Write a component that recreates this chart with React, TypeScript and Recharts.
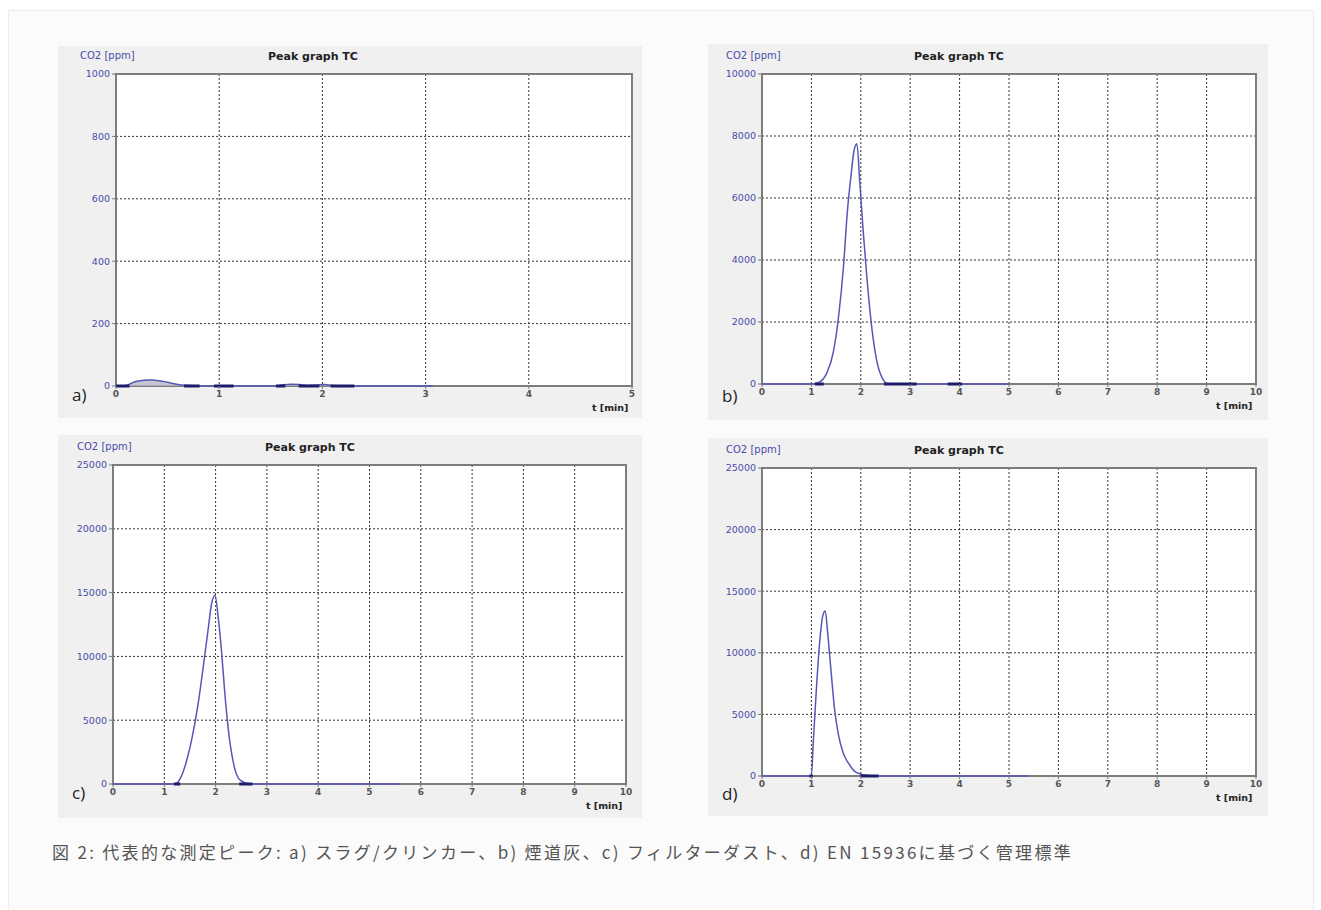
import React from "react"
import {
  ComposedChart, Area, Line, XAxis, YAxis, CartesianGrid, ReferenceArea,
} from "recharts"

// time axis ticks (min)
const xTicks5 = [0, 1, 2, 3, 4, 5]
const xTicks10 = [0, 1, 2, 3, 4, 5, 6, 7, 8, 9, 10]

// CO2 axis ticks (ppm)
const yTicksA = [0, 200, 400, 600, 800, 1000]
const yTicksB = [0, 2000, 4000, 6000, 8000, 10000]
const yTicksCD = [0, 5000, 10000, 15000, 20000, 25000]

// a) slag / clinker
const timeA = [0, 0.05, 0.1, 0.15, 0.2, 0.25, 0.3, 0.35, 0.4, 0.45, 0.5, 0.55, 0.6, 0.7, 0.8, 1.0, 1.2, 1.4, 1.55, 1.62, 1.7, 1.78, 1.85, 1.95, 2.02, 2.1, 2.3, 2.6, 3.07]
const co2A = [0, 0, 2, 9, 15, 18, 19, 19, 18, 15, 12, 8, 5, 2, 0, 0, 0, 0, 0, 4, 6, 5, 2, 3, 5, 2, 0, 0, 0]
const darkA = [[0, 0.13], [0.66, 0.81], [0.95, 1.14], [1.55, 1.64], [1.77, 1.97], [2.08, 2.31]]

// b) flue ash
const timeB = [0, 1.0, 1.17, 1.31, 1.44, 1.55, 1.65, 1.73, 1.8, 1.86, 1.92, 1.98, 2.05, 2.12, 2.22, 2.32, 2.42, 2.56, 3.0, 4.0, 5.0]
const co2B = [0, 0, 70, 350, 1000, 2170, 3800, 5600, 6700, 7500, 7750, 6500, 4900, 3500, 1850, 770, 240, 0, 0, 0, 0]
const darkB = [[1.07, 1.25], [2.47, 3.13], [3.76, 4.05]]

// c) filter dust
const timeC = [0, 1.0, 1.21, 1.32, 1.44, 1.56, 1.66, 1.76, 1.86, 1.92, 1.99, 2.05, 2.12, 2.18, 2.25, 2.35, 2.48, 2.67, 3, 4, 5, 5.6]
const co2C = [0, 0, 0, 500, 1900, 4000, 6300, 9200, 12300, 14100, 14800, 13100, 10200, 7100, 4200, 1600, 300, 0, 0, 0, 0, 0]
const darkC = [[1.19, 1.31], [2.46, 2.72]]

// d) control standard EN 15936
const timeD = [0, 0.96, 1.0, 1.04, 1.1, 1.16, 1.23, 1.28, 1.33, 1.4, 1.47, 1.54, 1.64, 1.74, 1.87, 2.0, 2.15, 2.36, 3, 4, 5, 5.38]
const co2D = [0, 0, 0, 2900, 7000, 10500, 13000, 13400, 11600, 8400, 5400, 3500, 1900, 1100, 400, 150, 50, 0, 0, 0, 0, 0]
const darkD = [[0.96, 1.03], [1.99, 2.36]]

const caption = "図 2: 代表的な測定ピーク: a) スラグ/クリンカー、b) 煙道灰、c) フィルターダスト、d) EN 15936に基づく管理標準"

const YW = 40
const XH = 20
const FONT = "'DejaVu Sans', 'Liberation Sans', sans-serif"

type Rect = { x: number; y: number; w: number; h: number }

function PeakPanel(props: {
  box: Rect; plot: Rect; letter: string; letterY: number
  time: number[]; co2: number[]; dark: number[][]
  xMax: number; xTicks: number[]; yMax: number; yTicks: number[]
  fill?: boolean
}) {
  const { box, plot, letter, letterY, time, co2, dark, xMax, xTicks, yMax, yTicks, fill } = props
  const data = time.map((t, i) => ({ t, v: co2[i] }))
  const darkData: { t: number; d: number | null }[] = []
  dark.forEach(([a, b]) => {
    darkData.push({ t: a, d: 0 }, { t: b, d: 0 }, { t: b + 0.001, d: null })
  })
  const margin = {
    top: plot.y - box.y,
    left: plot.x - box.x - YW,
    right: box.x + box.w - (plot.x + plot.w),
    bottom: box.y + box.h - (plot.y + plot.h) - XH,
  }
  const px = plot.x - box.x
  const py = plot.y - box.y
  return (
    <div style={{ position: "absolute", left: box.x, top: box.y, width: box.w, height: box.h, background: "#f0f0f0" }}>
      <ComposedChart width={box.w} height={box.h} margin={margin}>
        <CartesianGrid fill="#fff" stroke="#333" strokeDasharray="2 2" />
        <XAxis
          type="number" dataKey="t" domain={[0, xMax]} ticks={xTicks} interval={0}
          height={XH} axisLine={false} tickSize={3} tickLine={{ stroke: "#777" }}
          tick={{ fill: "#555", fontSize: 9, fontWeight: "bold", fontFamily: FONT }}
          allowDataOverflow
        />
        <YAxis
          type="number" domain={[0, yMax]} ticks={yTicks} interval={0}
          width={YW} axisLine={false} tickSize={4} tickMargin={2} tickLine={{ stroke: "#777" }}
          tick={{ fill: "#4b4bab", fontSize: 9.5, fontFamily: FONT }}
        />
        <ReferenceArea x1={0} x2={xMax} y1={0} y2={yMax} fill="none" stroke="#7d7d7d" strokeWidth={2} ifOverflow="visible" />
        <Area
          data={data} dataKey="v" type="monotone" stroke="#5757b5" strokeWidth={1.5}
          fill={fill ? "#b8b8c8" : "none"} fillOpacity={fill ? 0.8 : 0}
          dot={false} activeDot={false} isAnimationActive={false}
        />
        <Line
          data={darkData} dataKey="d" stroke="#1d1d6a" strokeWidth={3}
          dot={false} activeDot={false} isAnimationActive={false} connectNulls={false}
        />
      </ComposedChart>
      <div style={{ position: "absolute", left: px - 36, top: py - 24, fontSize: 10, color: "#4b4bab", fontFamily: FONT }}>CO2 [ppm]</div>
      <div style={{ position: "absolute", left: px + 152, top: py - 24, fontSize: 11, fontWeight: "bold", color: "#222", fontFamily: FONT }}>Peak graph TC</div>
      <div style={{ position: "absolute", left: px + plot.w - 40, top: plot.y + plot.h - box.y + 16, fontSize: 9.5, fontWeight: "bold", color: "#222", fontFamily: FONT }}>t [min]</div>
      <div style={{ position: "absolute", left: 14, top: letterY - box.y - 12, fontSize: 17, lineHeight: "24px", color: "#222", fontFamily: "'Open Sans', 'Noto Sans', sans-serif" }}>{letter}</div>
    </div>
  )
}

export default function App() {
  return (
    <div style={{ position: "absolute", left: 0, top: 0, width: 1321, height: 910, background: "#fff", overflow: "hidden" }}>
      <div style={{ position: "absolute", left: 8, top: 10, width: 1304, height: 920, background: "#fbfbfb", border: "1px solid #ececec" }} />
      <PeakPanel box={{ x: 58, y: 46, w: 584, h: 372 }} plot={{ x: 116, y: 74, w: 516, h: 312 }} letter="a)" letterY={395}
        time={timeA} co2={co2A} dark={darkA} xMax={5} xTicks={xTicks5} yMax={1000} yTicks={yTicksA} fill />
      <PeakPanel box={{ x: 708, y: 44, w: 560, h: 376 }} plot={{ x: 762, y: 74, w: 494, h: 310 }} letter="b)" letterY={396}
        time={timeB} co2={co2B} dark={darkB} xMax={10} xTicks={xTicks10} yMax={10000} yTicks={yTicksB} />
      <PeakPanel box={{ x: 58, y: 435, w: 584, h: 383 }} plot={{ x: 113, y: 465, w: 513, h: 319 }} letter="c)" letterY={793}
        time={timeC} co2={co2C} dark={darkC} xMax={10} xTicks={xTicks10} yMax={25000} yTicks={yTicksCD} />
      <PeakPanel box={{ x: 708, y: 438, w: 560, h: 378 }} plot={{ x: 762, y: 468, w: 494, h: 308 }} letter="d)" letterY={794}
        time={timeD} co2={co2D} dark={darkD} xMax={10} xTicks={xTicks10} yMax={25000} yTicks={yTicksCD} />
      <div style={{ position: "absolute", left: 52, top: 839, fontSize: 17, lineHeight: "26px", letterSpacing: 2.3, color: "#555", fontFamily: "'Noto Sans CJK JP', 'Noto Sans', sans-serif", whiteSpace: "nowrap" }}>
        {caption}
      </div>
    </div>
  )
}
